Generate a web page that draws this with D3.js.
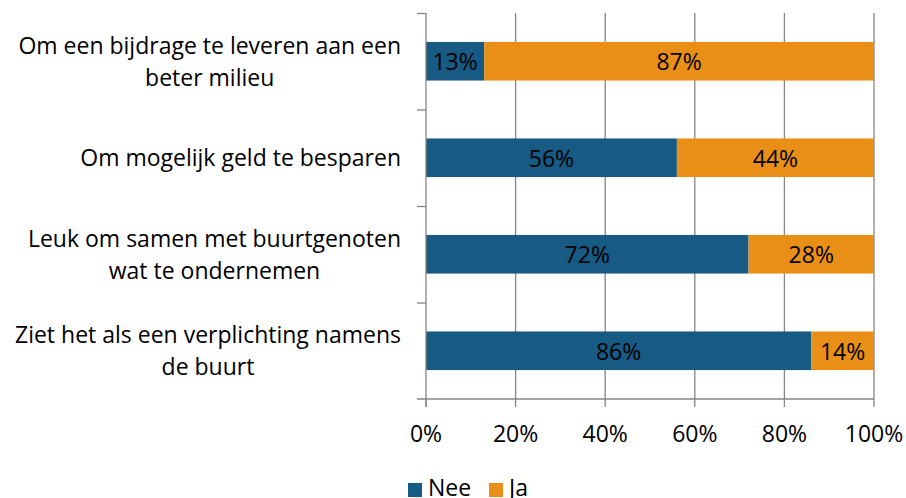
<!DOCTYPE html>
<html><head><meta charset="utf-8">
<script src="https://cdn.jsdelivr.net/npm/d3@7"></script>
<style>
body{margin:0;background:#fff;}
text{font-family:"Open Sans",sans-serif;}
</style></head>
<body>
<svg id="c" width="906" height="498"></svg>
<script>
const categories = [
  ["Om een bijdrage te leveren aan een","beter milieu"],
  ["Om mogelijk geld te besparen"],
  ["Leuk om samen met buurtgenoten","wat te ondernemen"],
  ["Ziet het als een verplichting namens","de buurt"]
];
const seriesNames = ["Nee","Ja"];
const nee = [13,56,72,86];
const ja = [87,44,28,14];
const tickValues = [0,20,40,60,80,100];
const colors = ["#175a84","#e98f17"];

(function(){
const svg = d3.select("#c");
const pLeft = 426, pRight = 874, pTop = 13, pBottom = 399;
const fs = 23;
const x = d3.scaleLinear().domain([0,100]).range([pLeft,pRight]);
const y = d3.scaleBand().domain(d3.range(categories.length)).range([pTop,pBottom]).paddingInner(0.6).paddingOuter(0.3);
const yb = d3.scaleBand().domain(d3.range(categories.length)).range([pTop,pBottom]);
const grid = "#868686";

svg.append("g").selectAll("line").data(tickValues.slice(1)).join("line")
  .attr("x1",d=>x(d)).attr("x2",d=>x(d)).attr("y1",pTop).attr("y2",pBottom)
  .attr("stroke",grid).attr("stroke-width",1.3);

const stacks = d3.stack().keys([0,1])(nee.map((v,i)=>({0:v,1:ja[i]})));
stacks.forEach((s,si)=>{
  const g = svg.append("g");
  g.selectAll("rect").data(s).join("rect")
    .attr("x",d=>x(d[0])).attr("width",d=>x(d[1])-x(d[0]))
    .attr("y",(d,i)=>y(i)).attr("height",y.bandwidth())
    .attr("fill",colors[si]);
  g.selectAll("text").data(s).join("text")
    .attr("x",d=>(x(d[0])+x(d[1]))/2).attr("y",(d,i)=>y(i)+y.bandwidth()/2+8.8)
    .attr("text-anchor","middle")
    .attr("font-size",fs).attr("fill","#000")
    .text(d=>(d[1]-d[0])+"%");
});

svg.append("line").attr("x1",pLeft).attr("x2",pLeft).attr("y1",pTop).attr("y2",pBottom+8)
  .attr("stroke",grid).attr("stroke-width",1.3);
svg.append("g").selectAll("line").data(d3.range(categories.length)).join("line")
  .attr("x1",pLeft-9).attr("x2",pLeft).attr("y1",d=>yb(d)+0.5).attr("y2",d=>yb(d)+0.5)
  .attr("stroke",grid).attr("stroke-width",1.3);
svg.append("line").attr("x1",pLeft-9).attr("x2",pRight).attr("y1",pBottom).attr("y2",pBottom)
  .attr("stroke",grid).attr("stroke-width",1.3);
svg.append("g").selectAll("line").data(tickValues).join("line")
  .attr("x1",d=>x(d)).attr("x2",d=>x(d)).attr("y1",pBottom).attr("y2",pBottom+8)
  .attr("stroke",grid).attr("stroke-width",1.3);
svg.append("g").selectAll("text").data(tickValues).join("text")
  .attr("x",d=>x(d)).attr("y",442).attr("text-anchor","middle")
  .attr("font-size",fs).attr("fill","#000").text(d=>d+"%");

const blockRight = 401;
categories.forEach((lines,i)=>{
  const g = svg.append("g");
  const cy = yb(i)+yb.bandwidth()/2;
  const lh = 32;
  const ts = lines.map((l,j)=>g.append("text")
    .attr("y",cy+8.5+(j-(lines.length-1)/2)*lh)
    .attr("text-anchor","middle").attr("font-size",fs).attr("fill","#000").text(l));
  const maxW = d3.max(ts,t=>t.node().getComputedTextLength());
  ts.forEach(t=>t.attr("x",blockRight-maxW/2));
});

const leg = svg.append("g");
const lx = [408,489];
seriesNames.forEach((n,i)=>{
  leg.append("rect").attr("x",lx[i]).attr("y",483).attr("width",14).attr("height",14).attr("fill",colors[i]);
  leg.append("text").attr("x",lx[i]+20).attr("y",496)
    .attr("font-size",fs).attr("fill","#000").text(n);
});
})();
</script>
</body></html>
